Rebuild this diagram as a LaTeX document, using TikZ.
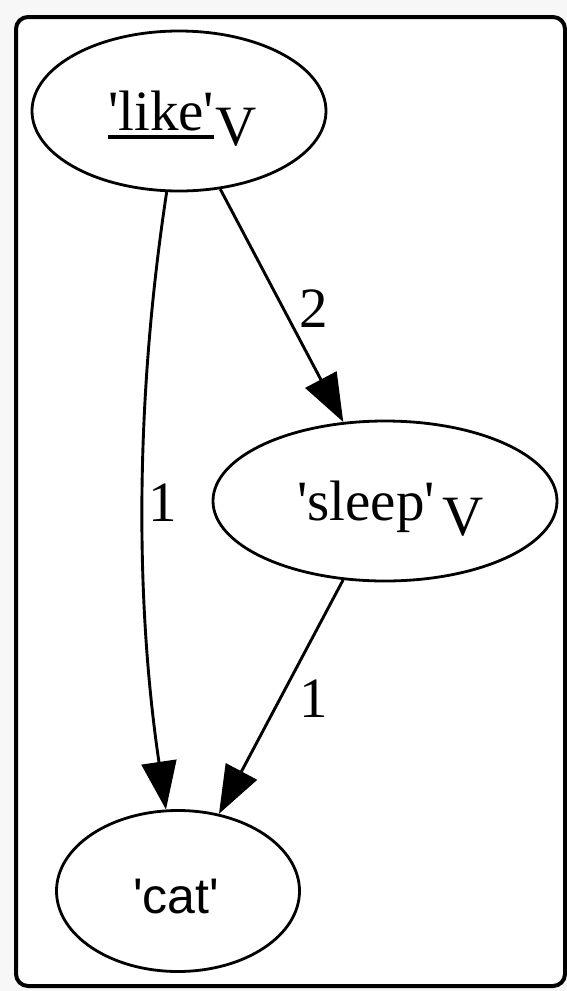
\documentclass[tikz,border=0pt]{standalone}
\usepackage{fontspec}
\setmainfont{Liberation Serif}
\newfontfamily\catfont{Liberation Sans}
\usetikzlibrary{arrows.meta,shapes.geometric}
\definecolor{pagebg}{HTML}{F7F7F7}
\tikzset{
  framebox/.style={draw=black, line width=4pt, rounded corners=12pt, fill=white},
  ell/.style={draw=black, ellipse, line width=2.8pt, inner sep=0pt},
  txt/.style={inner sep=0pt, font=\fontsize{57}{60}\selectfont},
  cattxt/.style={inner sep=0pt, font=\catfont\fontsize{50}{54}\selectfont},
  lbl/.style={inner sep=0pt, font=\fontsize{57}{60}\selectfont},
  edge/.style={draw=black, line width=2.9pt, -{Triangle[length=48pt,width=35pt]}},
  uline/.style={draw=black, line width=3.5pt}
}
\begin{document}
\begin{tikzpicture}[x=1pt,y=-1pt]
\fill[pagebg] (0,0) rectangle (567,991);
\useasboundingbox (0,0) rectangle (567,991);
\draw[framebox] (16,17) rectangle (565,986);

% nodes
\node[ell, minimum width=294pt, minimum height=160pt] (like) at (179,111) {};
\node[ell, minimum width=344pt, minimum height=160pt] (sleep) at (385,501) {};
\node[ell, minimum width=243pt, minimum height=161pt] (cat) at (178,891) {};

% node texts
\node[txt, anchor=base west] (liketext) at (108,130) {\textquotesingle like\textquotesingle};
\node[txt, anchor=base west] (likesub) at (215,145) {V};
\draw[uline] ([yshift=-7pt]liketext.base west) -- ([yshift=-7pt]liketext.base east);
\node[txt, anchor=base west] (sleeptext) at (297,520) {\textquotesingle sleep\textquotesingle};
\node[txt, anchor=base west] (sleepsub) at (442,535) {V};
\node[cattxt, anchor=base] (cattext) at (176,913) {\textquotesingle cat\textquotesingle};

% edges
\draw[edge] (like) .. controls (135,400) and (135,600) .. (cat);
\draw[edge] (like) -- (sleep);
\draw[edge] (sleep) -- (cat);

% edge labels
\node[lbl] (l1) at (163,503) {1};
\node[lbl] (l2) at (314,309) {2};
\node[lbl] (l3) at (314,699) {1};
\end{tikzpicture}
\end{document}
